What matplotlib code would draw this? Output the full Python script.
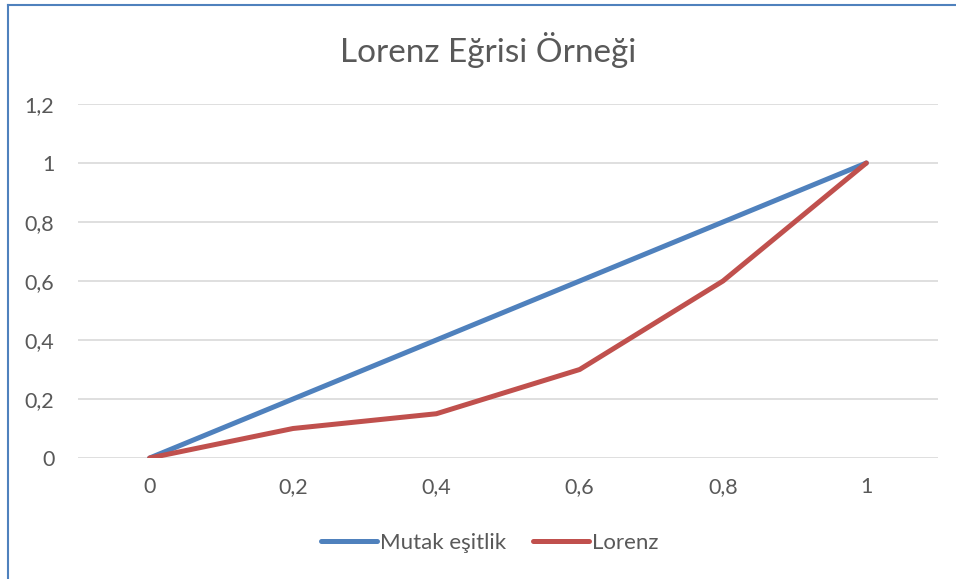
import matplotlib
matplotlib.use("Agg")
import matplotlib.pyplot as plt
from matplotlib.lines import Line2D

x_labels = ["0", "0,2", "0,4", "0,6", "0,8", "1"]
equality = [0, 0.2, 0.4, 0.6, 0.8, 1.0]
lorenz = [0, 0.1, 0.15, 0.3, 0.6, 1.0]
y_ticks = [0, 0.2, 0.4, 0.6, 0.8, 1.0, 1.2]
y_labels = ["0", "0,2", "0,4", "0,6", "0,8", "1", "1,2"]

BLUE = "#4F81BD"
RED = "#C0504D"
TXT = "#595959"

plt.rcParams["font.family"] = ["Lato", "DejaVu Sans"]

fig = plt.figure(figsize=(9.56, 5.79), dpi=100)
ax = fig.add_axes([78 / 956, 121 / 579, 860 / 956, 354 / 579])

xs = range(len(x_labels))
ax.plot(xs, equality, color=BLUE, lw=3.6, solid_capstyle="round", label="Mutak eşitlik", zorder=3)
ax.plot(xs, lorenz, color=RED, lw=3.6, solid_capstyle="round", label="Lorenz", zorder=4)

ax.set_xlim(-0.5, len(x_labels) - 0.5)
ax.set_ylim(0, 1.2)
ax.set_xticks(list(xs))
ax.set_xticklabels(x_labels)
ax.set_yticks(y_ticks)
ax.set_yticklabels(y_labels)
ax.tick_params(length=0, labelsize=15.5, colors=TXT)
ax.tick_params(axis="x", pad=14)
ax.tick_params(axis="y", pad=17)
ax.yaxis.grid(True, color="#D9D9D9", lw=1.2)
ax.set_axisbelow(True)
for s in ax.spines.values():
    s.set_visible(False)

fig.text(488 / 956, 1 - 50 / 579, "Lorenz Eğrisi Örneği", ha="center", va="center",
         fontsize=24, color=TXT)

handles = [Line2D([], [], color=BLUE, lw=3.6, solid_capstyle="round"),
           Line2D([], [], color=RED, lw=3.6, solid_capstyle="round")]
fig.legend(handles, ["Mutak eşitlik", "Lorenz"], loc="center", ncol=2,
           bbox_to_anchor=(490 / 956, 1 - 543 / 579), frameon=False,
           fontsize=16, labelcolor=TXT, handlelength=2.5, handletextpad=0.15,
           columnspacing=1.2)

# chart border (left and top edges visible)
fig.add_artist(Line2D([7.5 / 956, 7.5 / 956], [0, 1 - 5 / 579], color=BLUE, lw=1.5))
fig.add_artist(Line2D([7.5 / 956, 1], [1 - 5 / 579, 1 - 5 / 579], color=BLUE, lw=1.5))

fig.savefig("out.png", dpi=100)
